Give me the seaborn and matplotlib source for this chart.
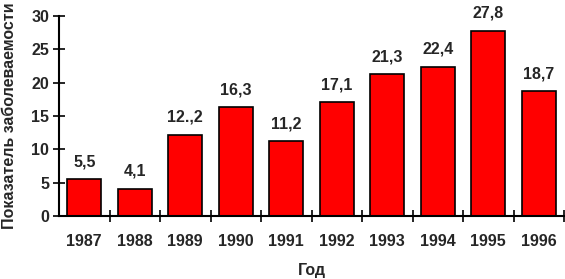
import seaborn as sns
import matplotlib.pyplot as plt
import pandas as pd

years = ["1987", "1988", "1989", "1990", "1991", "1992", "1993", "1994", "1995", "1996"]
values = [5.5, 4.1, 12.2, 16.3, 11.2, 17.1, 21.3, 22.4, 27.8, 18.7]
value_labels = ["5,5", "4,1", "12.,2", "16,3", "11,2", "17,1", "21,3", "22,4", "27,8", "18,7"]

sns.set_theme(style="ticks")
plt.rcParams['font.family'] = ['Liberation Sans', 'DejaVu Sans']

df = pd.DataFrame({"year": years, "value": values})

f = plt.figure(figsize=(5.65, 2.79), dpi=100)
ax = f.add_axes([59/565, 1 - 216/279, 505/565, 200/279])

sns.barplot(data=df, x="year", y="value", color="#ff0000", saturation=1,
    edgecolor="black", linewidth=1.2, width=0.68, ax=ax)

FS = 11.5
ax.bar_label(ax.containers[0], labels=value_labels, padding=7,
    fontsize=FS, fontweight='bold')

ax.set_xlim(-0.5, 9.5)
ax.set_ylim(0, 30)
ax.set_yticks(range(0, 31, 5))
ax.set_xticks([i + 0.5 for i in range(10)], minor=True)
ax.tick_params(axis='x', which='major', length=0, labelsize=FS, pad=13)
ax.tick_params(axis='x', which='minor', length=8, width=1.2, direction='inout', color='black')
ax.tick_params(axis='y', length=8, width=1.2, direction='inout', labelsize=FS, color='black', pad=3)
for lab in ax.get_xticklabels() + ax.get_yticklabels():
    lab.set_fontweight('bold')

sns.despine(ax=ax)
for s in ("left", "bottom"):
    ax.spines[s].set_linewidth(1.5)
    ax.spines[s].set_color("black")

ax.set_xlabel("")
ax.set_ylabel("")
f.text(312/565, 1 - 270/279, "Год", ha="center", va="center", fontsize=FS, fontweight='bold')
f.text(10/565, 1 - 229/279, "Показатель заболеваемости", rotation=90,
    ha="center", va="bottom", fontsize=FS, fontweight='bold')

f.savefig("out.png", dpi=100)
